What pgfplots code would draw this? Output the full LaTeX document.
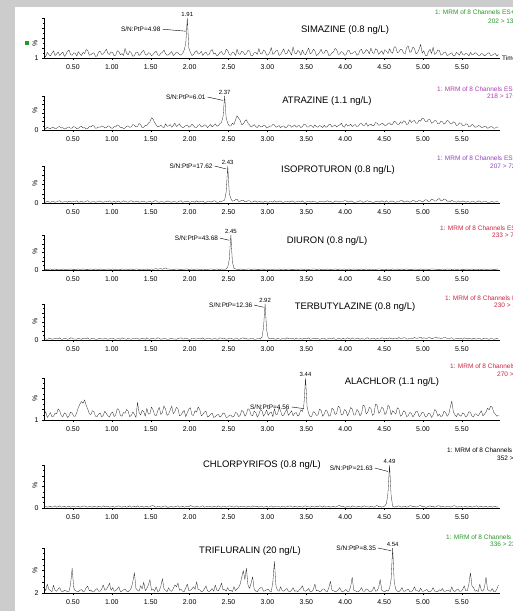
\documentclass[border=0pt]{standalone}
\usepackage{fontspec}
\setmainfont{Liberation Sans}
\usepackage{pgfplots}
\pgfplotsset{compat=1.18}
\definecolor{bggray}{RGB}{204,204,204}
\definecolor{mgreen}{RGB}{40,150,40}
\definecolor{mpurple}{RGB}{175,60,175}
\definecolor{mviolet}{RGB}{140,70,190}
\definecolor{mred}{RGB}{205,35,65}
\tikzset{
  rt/.style={font=\fontsize{6}{7}\selectfont, above, inner sep=1.5pt},
  sn/.style={font=\fontsize{6.5}{7.5}\selectfont, anchor=east, inner sep=1pt},
  cname/.style={font=\fontsize{9.5}{11}\selectfont, inner sep=0pt},
  mrm/.style={font=\fontsize{6.5}{7.5}\selectfont, anchor=west, inner sep=0pt},
  pct/.style={font=\fontsize{7}{8}\selectfont, rotate=90, inner sep=0pt},
  trace/.style={black!85, line width=0.3pt, line join=round},
}
\pgfplotsset{chrom/.style={
  scale only axis, width=456bp, xmin=0.128, xmax=5.99, ymin=0, ymax=100,
  axis x line=bottom, axis y line=left,
  axis line style={-, line width=0.4pt},
  every outer x axis line/.append style={-}, every outer y axis line/.append style={-},
  every inner x axis line/.append style={-}, every inner y axis line/.append style={-},
  xtick={0.5,1,1.5,2,2.5,3,3.5,4,4.5,5,5.5},
  xticklabels={0.50,1.00,1.50,2.00,2.50,3.00,3.50,4.00,4.50,5.00,5.50},
  minor x tick num=4, tick align=outside,
  major tick length=2bp, minor tick length=1.2bp,
  ytick={0,25,50,75,100}, minor y tick num=1,
  tick style={black, line width=0.3pt},
  tick label style={font=\fontsize{7}{8}\selectfont},
  xticklabel style={yshift=-1bp},
  clip=false, no markers,
}}
\begin{document}
\begin{tikzpicture}
\useasboundingbox (0,0) rectangle (513bp,611bp);
\clip (0,0) rectangle (513bp,611bp);
\fill[bggray] (0,0) rectangle (513bp,611bp);
\fill[white] (15bp,0) rectangle (513bp,604bp);

% 1 SIMAZINE
\begin{axis}[chrom, at={(44bp,553bp)}, height=40bp, yticklabels={1,{},{},{},{}}]
\addplot[trace] table[row sep=\\, header=false, x expr=0.13+0.02*\coordindex, y index=0]{
8\\3\\14\\9\\5\\12\\18\\6\\10\\15\\6\\11\\15\\4\\9\\17\\20\\8\\7\\13\\
12\\5\\16\\10\\6\\14\\11\\21\\19\\7\\8\\12\\13\\4\\5\\15\\17\\9\\10\\16\\
22\\11\\9\\15\\14\\5\\7\\18\\16\\8\\11\\6\\24\\12\\8\\17\\13\\4\\6\\14\\
15\\6\\10\\16\\19\\9\\7\\13\\12\\5\\9\\14\\17\\8\\6\\12\\14\\20\\11\\7\\
8\\12\\16\\6\\10\\15\\13\\9\\7\\11\\20\\35\\100\\25\\14\\6\\9\\15\\18\\10\\
11\\17\\6\\12\\15\\7\\9\\18\\21\\10\\12\\5\\8\\14\\16\\9\\10\\22\\19\\8\\
7\\15\\13\\6\\22\\10\\9\\17\\15\\8\\11\\19\\18\\5\\6\\13\\14\\9\\24\\11\\
10\\20\\17\\7\\8\\14\\26\\9\\12\\18\\19\\6\\9\\16\\23\\10\\11\\21\\15\\7\\
28\\12\\10\\19\\16\\7\\20\\11\\8\\17\\25\\10\\13\\22\\18\\6\\9\\14\\22\\12\\
12\\20\\17\\6\\7\\13\\15\\24\\21\\9\\10\\16\\14\\7\\8\\18\\19\\10\\11\\15\\
16\\7\\9\\19\\22\\11\\13\\21\\18\\10\\25\\14\\11\\23\\20\\9\\14\\18\\9\\21\\
17\\11\\23\\15\\12\\28\\27\\13\\15\\22\\21\\12\\10\\26\\30\\14\\16\\27\\24\\10\\
13\\22\\34\\12\\18\\7\\5\\16\\22\\11\\27\\9\\12\\20\\19\\7\\9\\14\\15\\6\\
8\\11\\13\\5\\6\\14\\11\\7\\17\\9\\7\\12\\10\\5\\14\\8\\9\\13\\12\\7\\
6\\11\\10\\5\\8\\12\\13\\6\\7\\10\\11\\5\\9\\
};
\node[rt] at (axis cs:1.97,100) {1.91};
\node[sn] at (axis cs:1.64,72) {S/N:PtP=4.98};
\draw[line width=0.4pt] (axis cs:1.65,72) -- (axis cs:1.95,67);
\end{axis}

% 2 ATRAZINE
\begin{axis}[chrom, at={(44bp,481bp)}, height=34bp, yticklabels={0,{},{},{},{}}]
\addplot[trace] table[row sep=\\, header=false, x expr=0.13+0.02*\coordindex, y index=0]{
6\\3\\9\\5\\4\\7\\8\\4\\5\\9\\10\\6\\7\\3\\4\\8\\9\\5\\6\\10\\
8\\4\\5\\9\\11\\6\\7\\3\\4\\10\\9\\13\\12\\5\\6\\9\\8\\12\\10\\6\\
7\\12\\11\\6\\5\\10\\9\\15\\13\\7\\8\\4\\6\\11\\12\\8\\9\\16\\14\\9\\
10\\19\\16\\7\\8\\14\\13\\20\\24\\36\\32\\22\\15\\9\\11\\14\\9\\7\\18\\11\\
12\\16\\8\\13\\20\\10\\14\\18\\10\\7\\9\\13\\15\\8\\11\\17\\13\\7\\8\\14\\
16\\9\\10\\15\\14\\7\\12\\16\\9\\13\\18\\11\\13\\19\\22\\40\\100\\35\\20\\12\\
12\\20\\16\\30\\42\\35\\28\\15\\18\\26\\30\\20\\15\\9\\12\\16\\10\\7\\14\\10\\
9\\14\\13\\6\\8\\12\\11\\16\\15\\8\\10\\13\\7\\11\\12\\6\\9\\15\\14\\8\\
11\\15\\8\\12\\13\\7\\10\\17\\16\\9\\9\\14\\12\\7\\15\\10\\8\\13\\11\\7\\
14\\8\\10\\16\\17\\9\\12\\15\\9\\13\\15\\20\\11\\8\\18\\12\\13\\17\\10\\14\\
16\\10\\12\\18\\19\\13\\14\\21\\11\\15\\17\\12\\13\\22\\20\\14\\15\\20\\18\\13\\
14\\19\\21\\15\\17\\26\\23\\17\\16\\24\\19\\27\\25\\16\\18\\30\\22\\26\\28\\20\\
20\\29\\26\\35\\33\\25\\24\\31\\30\\20\\22\\28\\27\\18\\19\\26\\24\\17\\21\\28\\
26\\19\\18\\24\\22\\13\\15\\21\\20\\12\\13\\18\\17\\9\\11\\16\\14\\8\\9\\13\\
12\\7\\8\\11\\10\\5\\7\\10\\9\\5\\6\\9\\8\\
};
\node[rt] at (axis cs:2.45,100) {2.37};
\node[sn] at (axis cs:2.22,97) {S/N:PtP=6.01};
\draw[line width=0.4pt] (axis cs:2.23,97) -- (axis cs:2.43,87);
\end{axis}

% 3 ISOPROTURON
\begin{axis}[chrom, at={(44bp,408bp)}, height=37bp, yticklabels={0,{},{},{},{}}]
\addplot[trace] table[row sep=\\, header=false, x expr=0.13+0.02*\coordindex, y index=0]{
3\\2\\5\\3\\2\\4\\4\\2\\3\\5\\6\\3\\2\\4\\4\\2\\5\\3\\3\\4\\
4\\6\\2\\3\\5\\2\\3\\5\\6\\3\\2\\4\\4\\2\\3\\5\\5\\3\\2\\4\\
4\\3\\6\\2\\3\\5\\2\\4\\5\\2\\3\\6\\4\\3\\2\\5\\6\\3\\3\\4\\
5\\2\\3\\5\\4\\3\\2\\4\\5\\2\\3\\6\\6\\3\\2\\4\\4\\2\\3\\5\\
5\\3\\2\\4\\4\\2\\3\\5\\6\\2\\3\\4\\5\\3\\2\\5\\4\\2\\6\\3\\
3\\4\\5\\2\\2\\4\\4\\3\\3\\6\\5\\2\\2\\5\\4\\6\\8\\30\\100\\25\\
12\\5\\6\\9\\10\\4\\5\\7\\8\\3\\4\\6\\6\\2\\3\\5\\5\\2\\4\\3\\
3\\2\\5\\3\\2\\4\\4\\2\\6\\3\\3\\5\\5\\2\\2\\4\\4\\3\\3\\5\\
5\\2\\3\\4\\4\\3\\6\\2\\2\\4\\5\\3\\3\\5\\4\\2\\2\\4\\5\\3\\
3\\4\\6\\3\\4\\2\\2\\5\\5\\3\\3\\4\\4\\6\\6\\3\\3\\5\\5\\2\\
2\\3\\4\\6\\5\\2\\3\\5\\6\\3\\4\\2\\2\\4\\5\\3\\3\\6\\4\\2\\
6\\2\\3\\5\\5\\3\\2\\4\\4\\6\\7\\3\\3\\5\\5\\2\\4\\7\\6\\3\\
4\\7\\6\\3\\5\\9\\8\\4\\5\\11\\9\\5\\6\\10\\12\\6\\7\\11\\10\\5\\
5\\3\\8\\4\\4\\2\\6\\3\\3\\5\\5\\2\\4\\3\\2\\4\\4\\2\\3\\5\\
5\\2\\3\\4\\4\\2\\2\\3\\4\\2\\3\\4\\2\\
};
\node[rt] at (axis cs:2.49,100) {2.43};
\node[sn] at (axis cs:2.31,100) {S/N:PtP=17.62};
\draw[line width=0.4pt] (axis cs:2.32,100) -- (axis cs:2.47,92);
\end{axis}

% 4 DIURON
\begin{axis}[chrom, at={(44bp,341bp)}, height=35bp, yticklabels={0,{},{},{},{}}]
\addplot[trace] table[row sep=\\, header=false, x expr=0.13+0.02*\coordindex, y index=0]{
2\\1\\1\\2\\3\\1\\2\\3\\1\\2\\2\\1\\3\\2\\1\\2\\2\\3\\2\\1\\
1\\2\\3\\1\\2\\3\\2\\1\\1\\2\\3\\2\\1\\3\\2\\1\\3\\2\\1\\2\\
2\\3\\2\\1\\3\\2\\1\\2\\2\\1\\3\\2\\2\\3\\1\\2\\3\\1\\2\\3\\
3\\1\\2\\3\\1\\2\\3\\1\\2\\3\\2\\3\\4\\2\\3\\4\\2\\4\\6\\3\\
3\\2\\2\\1\\2\\3\\3\\1\\1\\2\\2\\3\\3\\1\\2\\3\\1\\2\\3\\2\\
2\\1\\3\\2\\1\\2\\2\\3\\3\\1\\2\\3\\2\\1\\3\\2\\2\\3\\8\\30\\
100\\22\\5\\3\\2\\1\\3\\2\\1\\2\\2\\3\\3\\1\\2\\3\\2\\1\\1\\2\\
3\\1\\2\\3\\1\\2\\2\\1\\3\\2\\2\\3\\1\\2\\3\\1\\2\\3\\2\\1\\
1\\2\\3\\1\\2\\3\\2\\1\\3\\2\\1\\2\\2\\3\\3\\1\\2\\3\\1\\2\\
2\\1\\3\\2\\1\\2\\2\\3\\2\\1\\3\\2\\2\\3\\1\\2\\3\\1\\2\\3\\
2\\3\\1\\2\\3\\1\\2\\3\\2\\1\\3\\2\\1\\2\\2\\3\\3\\1\\2\\2\\
1\\3\\2\\1\\3\\2\\2\\3\\1\\2\\3\\1\\2\\3\\2\\1\\1\\2\\3\\2\\
2\\1\\3\\2\\1\\3\\2\\1\\2\\3\\3\\2\\2\\1\\1\\2\\3\\1\\2\\3\\
2\\3\\1\\2\\3\\1\\2\\3\\2\\1\\1\\2\\3\\1\\2\\3\\1\\2\\2\\1\\
3\\1\\2\\3\\1\\2\\2\\3\\2\\1\\1\\3\\2\\
};
\node[rt] at (axis cs:2.53,100) {2.45};
\node[sn] at (axis cs:2.38,91) {S/N:PtP=43.68};
\draw[line width=0.4pt] (axis cs:2.39,91) -- (axis cs:2.51,85);
\end{axis}

% 5 TERBUTYLAZINE
\begin{axis}[chrom, at={(44bp,271bp)}, height=36bp, yticklabels={0,{},{},{},{}}]
\addplot[trace] table[row sep=\\, header=false, x expr=0.13+0.02*\coordindex, y index=0]{
4\\3\\2\\4\\5\\2\\3\\5\\4\\3\\6\\2\\2\\5\\4\\2\\3\\6\\5\\3\\
3\\2\\5\\3\\2\\5\\4\\3\\6\\2\\3\\5\\4\\2\\2\\4\\5\\3\\3\\4\\
4\\2\\3\\5\\5\\3\\2\\4\\4\\2\\6\\4\\3\\2\\5\\3\\2\\4\\4\\5\\
5\\2\\3\\5\\4\\2\\6\\3\\2\\5\\4\\3\\3\\6\\5\\2\\3\\4\\4\\2\\
2\\4\\5\\3\\3\\2\\4\\5\\6\\3\\3\\5\\4\\2\\2\\5\\5\\3\\3\\4\\
4\\3\\6\\2\\3\\5\\5\\3\\2\\4\\4\\2\\3\\6\\5\\3\\4\\2\\3\\5\\
5\\3\\2\\4\\4\\2\\3\\5\\6\\3\\4\\2\\3\\5\\5\\2\\2\\4\\4\\3\\
8\\35\\100\\28\\6\\3\\4\\5\\3\\2\\5\\3\\2\\4\\4\\2\\6\\4\\3\\5\\
4\\2\\5\\3\\3\\4\\2\\5\\4\\3\\6\\2\\3\\4\\5\\3\\4\\2\\3\\5\\
5\\2\\3\\4\\4\\3\\6\\2\\2\\5\\4\\2\\5\\3\\3\\6\\4\\2\\6\\3\\
3\\4\\5\\2\\4\\3\\2\\5\\6\\3\\3\\5\\5\\2\\4\\3\\3\\6\\5\\3\\
4\\3\\6\\4\\3\\5\\5\\3\\7\\4\\4\\6\\6\\3\\3\\5\\5\\4\\7\\5\\
5\\6\\8\\4\\6\\5\\4\\7\\7\\3\\5\\6\\8\\5\\6\\4\\5\\7\\7\\4\\
4\\5\\6\\2\\3\\4\\5\\3\\4\\2\\6\\4\\3\\5\\4\\2\\5\\3\\3\\4\\
4\\2\\3\\5\\5\\3\\2\\4\\4\\2\\3\\5\\4\\
};
\node[rt] at (axis cs:2.97,100) {2.92};
\node[sn] at (axis cs:2.82,97) {S/N:PtP=12.36};
\draw[line width=0.4pt] (axis cs:2.83,97) -- (axis cs:2.95,91);
\end{axis}

% 6 ALACHLOR
\begin{axis}[chrom, at={(44bp,191bp)}, height=42bp, yticklabels={1,{},{},{},{}}]
\addplot[trace] table[row sep=\\, header=false, x expr=0.13+0.02*\coordindex, y index=0]{
12\\20\\6\\11\\18\\8\\9\\16\\15\\26\\22\\10\\8\\17\\14\\6\\10\\19\\16\\9\\
9\\18\\30\\38\\44\\40\\48\\35\\26\\15\\13\\22\\20\\9\\8\\14\\17\\7\\11\\21\\
15\\10\\7\\16\\19\\8\\12\\27\\24\\11\\9\\18\\16\\25\\21\\8\\11\\19\\14\\6\\
42\\18\\12\\23\\20\\9\\28\\14\\15\\31\\24\\12\\10\\22\\30\\13\\18\\34\\26\\11\\
14\\24\\33\\15\\20\\30\\27\\10\\12\\19\\23\\8\\17\\26\\29\\12\\11\\22\\19\\31\\
25\\10\\13\\19\\21\\7\\9\\14\\16\\6\\8\\12\\13\\7\\10\\17\\15\\6\\7\\11\\
12\\7\\9\\18\\16\\8\\11\\23\\20\\9\\14\\27\\24\\12\\10\\21\\18\\7\\13\\25\\
22\\9\\15\\24\\11\\17\\19\\8\\27\\13\\14\\30\\21\\10\\12\\19\\26\\11\\16\\22\\
10\\16\\18\\9\\13\\24\\20\\38\\100\\32\\15\\8\\9\\20\\17\\11\\12\\26\\23\\9\\
14\\24\\20\\9\\11\\28\\25\\13\\16\\33\\30\\12\\13\\25\\22\\10\\18\\30\\26\\12\\
12\\25\\21\\10\\15\\36\\33\\14\\19\\30\\28\\11\\14\\38\\35\\16\\20\\31\\27\\13\\
17\\35\\31\\12\\22\\18\\14\\29\\26\\9\\12\\22\\19\\8\\10\\18\\16\\7\\13\\20\\
20\\8\\11\\19\\17\\7\\9\\16\\15\\6\\12\\25\\22\\9\\14\\8\\10\\21\\18\\9\\
13\\30\\45\\20\\12\\8\\16\\11\\9\\17\\14\\7\\11\\20\\18\\9\\8\\15\\13\\10\\
16\\22\\10\\14\\19\\28\\24\\33\\30\\18\\14\\9\\11\\
};
\node[rt] at (axis cs:3.49,100) {3.44};
\node[sn] at (axis cs:3.30,31) {S/N:PtP=4.56};
\draw[line width=0.4pt] (axis cs:3.31,31) -- (axis cs:3.47,27);
\end{axis}

% 7 CHLORPYRIFOS
\begin{axis}[chrom, at={(44bp,103bp)}, height=43bp, yticklabels={0,{},{},{},{}}]
\addplot[trace] table[row sep=\\, header=false, x expr=0.13+0.02*\coordindex, y index=0]{
3\\4\\2\\3\\4\\2\\3\\5\\2\\3\\5\\2\\3\\4\\2\\3\\4\\2\\3\\4\\
2\\3\\4\\2\\3\\4\\5\\3\\2\\4\\3\\2\\4\\3\\2\\4\\3\\2\\5\\3\\
3\\4\\2\\3\\4\\2\\3\\4\\5\\3\\2\\4\\4\\2\\3\\5\\2\\3\\4\\2\\
5\\2\\3\\4\\2\\3\\4\\2\\3\\5\\6\\3\\2\\4\\4\\2\\3\\4\\5\\2\\
2\\3\\4\\2\\3\\4\\5\\2\\3\\4\\2\\3\\4\\3\\6\\4\\3\\2\\4\\3\\
2\\4\\5\\2\\3\\4\\4\\3\\2\\4\\3\\2\\5\\3\\2\\4\\4\\2\\3\\5\\
4\\3\\2\\4\\5\\2\\3\\4\\4\\3\\2\\4\\3\\2\\5\\3\\3\\4\\2\\3\\
4\\2\\3\\4\\2\\3\\5\\2\\3\\4\\4\\3\\2\\4\\4\\2\\3\\4\\5\\3\\
2\\4\\3\\2\\4\\3\\2\\4\\5\\3\\3\\2\\4\\3\\2\\4\\3\\5\\4\\2\\
5\\2\\3\\4\\2\\3\\4\\2\\3\\5\\6\\3\\4\\2\\2\\4\\3\\2\\5\\3\\
3\\2\\4\\3\\2\\4\\5\\3\\3\\2\\4\\3\\2\\4\\6\\3\\4\\2\\3\\5\\
10\\35\\100\\30\\4\\2\\3\\4\\5\\3\\2\\4\\4\\2\\3\\5\\5\\3\\4\\2\\
3\\5\\6\\3\\4\\2\\2\\4\\5\\3\\4\\2\\3\\5\\5\\2\\4\\3\\2\\4\\
4\\2\\3\\5\\5\\3\\2\\4\\4\\2\\3\\4\\2\\3\\4\\2\\3\\4\\5\\2\\
3\\4\\2\\3\\4\\2\\3\\4\\2\\3\\4\\2\\3\\
};
\node[rt] at (axis cs:4.57,100) {4.49};
\node[sn] at (axis cs:4.37,93) {S/N:PtP=21.63};
\draw[line width=0.4pt] (axis cs:4.38,93) -- (axis cs:4.55,85);
\end{axis}

% 8 TRIFLURALIN
\begin{axis}[chrom, at={(44bp,18bp)}, height=45bp, yticklabels={2,{},{},{},{}}]
\addplot[trace] table[row sep=\\, header=false, x expr=0.13+0.02*\coordindex, y index=0]{
14\\5\\20\\8\\6\\3\\17\\6\\4\\9\\12\\4\\3\\6\\5\\3\\4\\20\\55\\12\\
5\\4\\3\\6\\8\\3\\4\\12\\15\\5\\6\\3\\3\\7\\10\\4\\4\\9\\18\\6\\
8\\14\\22\\6\\12\\4\\5\\9\\14\\3\\4\\7\\9\\4\\3\\6\\11\\25\\45\\10\\
6\\4\\16\\9\\24\\5\\10\\18\\30\\6\\8\\4\\14\\3\\5\\15\\32\\10\\6\\3\\
12\\5\\4\\10\\18\\14\\22\\6\\8\\4\\3\\11\\20\\5\\6\\9\\14\\8\\25\\7\\
7\\3\\4\\9\\16\\5\\3\\6\\10\\4\\18\\6\\5\\12\\22\\7\\8\\4\\12\\5\\
6\\3\\14\\5\\9\\12\\20\\35\\50\\30\\55\\18\\10\\22\\36\\8\\4\\3\\8\\12\\
12\\4\\5\\7\\9\\4\\3\\25\\70\\15\\6\\4\\14\\5\\4\\8\\10\\4\\3\\6\\
12\\4\\5\\3\\7\\10\\16\\5\\4\\6\\10\\3\\3\\8\\20\\5\\6\\3\\4\\9\\
9\\4\\3\\12\\26\\6\\5\\3\\4\\7\\12\\4\\3\\5\\8\\3\\4\\14\\35\\6\\
5\\3\\3\\6\\12\\4\\4\\9\\8\\3\\3\\6\\14\\4\\5\\12\\30\\6\\4\\3\\
6\\4\\10\\30\\100\\25\\8\\4\\3\\6\\12\\4\\4\\7\\9\\3\\3\\6\\14\\5\\
5\\3\\11\\4\\4\\6\\8\\3\\3\\5\\12\\4\\4\\3\\7\\5\\10\\4\\4\\6\\
6\\3\\14\\5\\3\\7\\9\\4\\4\\8\\16\\5\\5\\20\\45\\15\\12\\4\\6\\3\\
20\\6\\4\\12\\35\\8\\5\\4\\10\\3\\3\\9\\18\\
};
\node[rt] at (axis cs:4.61,100) {4.54};
\node[sn] at (axis cs:4.41,100) {S/N:PtP=8.35};
\draw[line width=0.4pt] (axis cs:4.42,100) -- (axis cs:4.59,94);
\end{axis}

\begin{scope}[x=1bp, y=-1bp, shift={(0,611bp)}]
% compound names
\node[cname] at (345,30) {SIMAZINE (0.8 ng/L)};
\node[cname] at (327,101) {ATRAZINE (1.1 ng/L)};
\node[cname] at (338,170) {ISOPROTURON (0.8 ng/L)};
\node[cname] at (327,241) {DIURON (0.8 ng/L)};
\node[cname] at (355,307) {TERBUTYLAZINE (0.8 ng/L)};
\node[cname] at (392,382) {ALACHLOR (1.1 ng/L)};
\node[cname] at (262,465) {CHLORPYRIFOS (0.8 ng/L)};
\node[cname] at (250,551) {TRIFLURALIN (20 ng/L)};
% percent labels
\fill[mgreen] (25,41) rectangle (29,45);
\node[pct] at (35,43) {\%};
\node[pct] at (35,110) {\%};
\node[pct] at (35,183) {\%};
\node[pct] at (35,251) {\%};
\node[pct] at (35,321) {\%};
\node[pct] at (35,398) {\%};
\node[pct] at (35,485) {\%};
\node[pct] at (35,570) {\%};
% time label
\node[mrm] at (502,58) {Time};
% MRM headers
\node[mrm, text=mgreen] at (435,12) {1: MRM of 8 Channels ES+};
\node[mrm, text=mgreen] at (488,21) {202 > 132};
\node[mrm, text=mpurple] at (437,89) {1: MRM of 8 Channels ES+};
\node[mrm, text=mpurple] at (487,96) {218 > 176};
\node[mrm, text=mviolet] at (437,158) {1: MRM of 8 Channels ES+};
\node[mrm, text=mviolet] at (490,166) {207 > 72};
\node[mrm, text=mred] at (440,228) {1: MRM of 8 Channels ES+};
\node[mrm, text=mred] at (492,235) {233 > 72};
\node[mrm, text=mred] at (445,298) {1: MRM of 8 Channels ES+};
\node[mrm, text=mred] at (494,305) {230 > 174};
\node[mrm, text=mred] at (450,366) {1: MRM of 8 Channels ES+};
\node[mrm, text=mred] at (497,374) {270 > 238};
\node[mrm, text=black] at (447,450) {1: MRM of 8 Channels ES+};
\node[mrm, text=black] at (497,458) {352 > 200};
\node[mrm, text=mgreen] at (446,537) {1: MRM of 8 Channels ES+};
\node[mrm, text=mgreen] at (490,544) {336 > 236};
\end{scope}
\end{tikzpicture}
\end{document}
